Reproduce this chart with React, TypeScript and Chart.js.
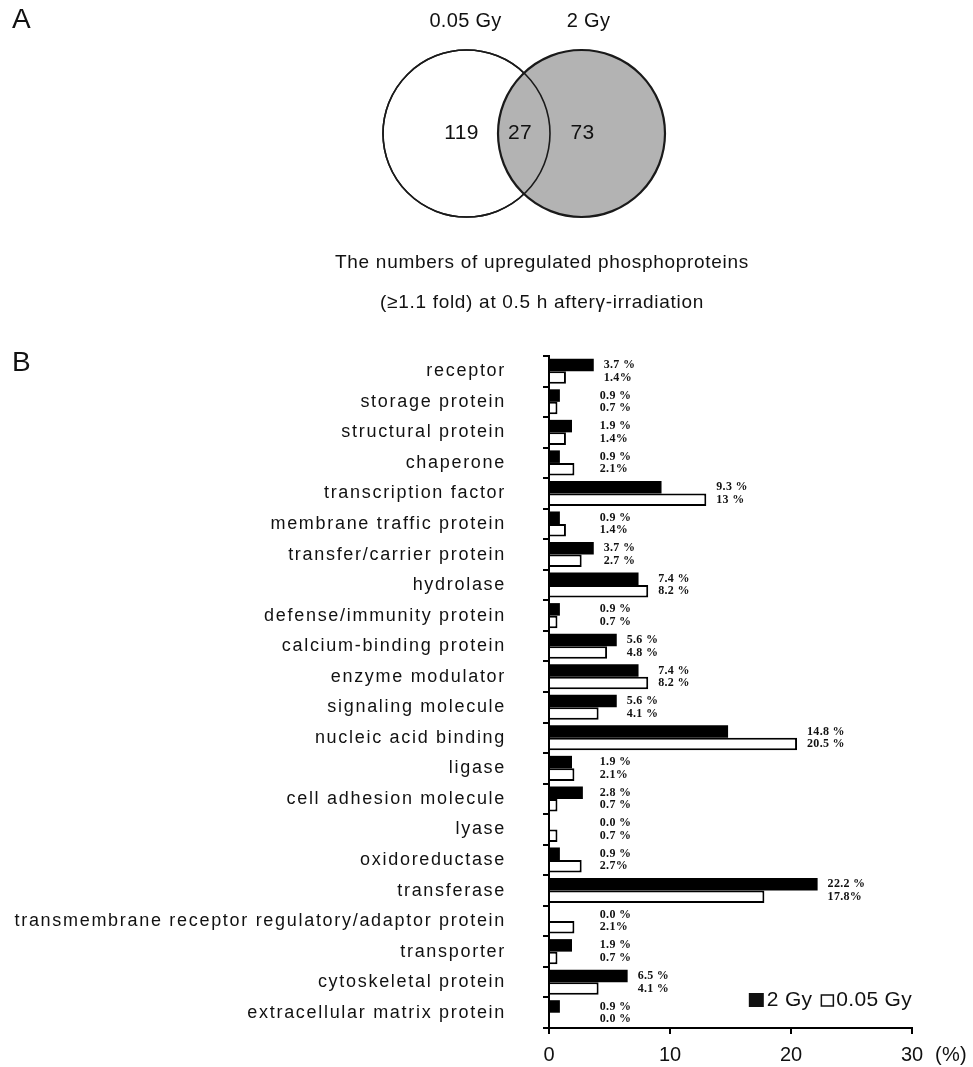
import React, { useEffect, useRef } from 'react';
import { Chart, registerables } from 'chart.js';

Chart.register(...registerables);

const SANS = '"Liberation Sans", Arial, sans-serif';
const SERIF = '"Liberation Serif", "Times New Roman", serif';

// ---------- Data: panel A (Venn) ----------
const vennSetNames = ['0.05 Gy', '2 Gy'];
const vennCounts = [119, 27, 73]; // 0.05 Gy only, both, 2 Gy only
const captionLines = [
  'The numbers of upregulated phosphoproteins',
  '(\u22651.1 fold) at 0.5 h after\u03b3-irradiation',
];

// ---------- Data: panel B (bars) ----------
const categories = [
  'receptor',
  'storage protein',
  'structural protein',
  'chaperone',
  'transcription factor',
  'membrane traffic protein',
  'transfer/carrier protein',
  'hydrolase',
  'defense/immunity protein',
  'calcium-binding protein',
  'enzyme modulator',
  'signaling molecule',
  'nucleic acid binding',
  'ligase',
  'cell adhesion molecule',
  'lyase',
  'oxidoreductase',
  'transferase',
  'transmembrane receptor regulatory/adaptor protein',
  'transporter',
  'cytoskeletal protein',
  'extracellular matrix protein',
];
const values2Gy = [3.7, 0.9, 1.9, 0.9, 9.3, 0.9, 3.7, 7.4, 0.9, 5.6, 7.4, 5.6, 14.8, 1.9, 2.8, 0.0, 0.9, 22.2, 0.0, 1.9, 6.5, 0.9];
const values005Gy = [1.4, 0.7, 1.4, 2.1, 13, 1.4, 2.7, 8.2, 0.7, 4.8, 8.2, 4.1, 20.5, 2.1, 0.7, 0.7, 2.7, 17.8, 2.1, 0.7, 4.1, 0.0];
const labels2Gy = ['3.7 %', '0.9 %', '1.9 %', '0.9 %', '9.3 %', '0.9 %', '3.7 %', '7.4 %', '0.9 %', '5.6 %', '7.4 %', '5.6 %', '14.8 %', '1.9 %', '2.8 %', '0.0 %', '0.9 %', '22.2 %', '0.0 %', '1.9 %', '6.5 %', '0.9 %'];
const labels005Gy = ['1.4%', '0.7 %', '1.4%', '2.1%', '13 %', '1.4%', '2.7 %', '8.2 %', '0.7 %', '4.8 %', '8.2 %', '4.1 %', '20.5 %', '2.1%', '0.7 %', '0.7 %', '2.7%', '17.8%', '2.1%', '0.7 %', '4.1 %', '0.0 %'];
const xTickValues = [0, 10, 20, 30];
const xUnit = '(%)';
const seriesNames = ['2 Gy', '0.05 Gy'];

// ---------- Panel A ----------
const VENN_L = { x: 466.5, y: 133.5, r: 83.5 };
const VENN_R = { x: 581.5, y: 133.5, r: 83.5 };

function VennChart() {
  const ref = useRef<HTMLCanvasElement>(null);
  useEffect(() => {
    const textPlugin = {
      id: 'vennText',
      afterDatasetsDraw(chart: any) {
        const ctx = chart.ctx;
        const xs = chart.scales.x;
        const ys = chart.scales.y;
        ctx.save();
        ctx.fillStyle = '#111';
        ctx.textAlign = 'center';
        ctx.textBaseline = 'middle';
        ctx.font = `20px ${SANS}`;
        ctx.letterSpacing = '0.3px';
        ctx.fillText(vennSetNames[0], xs.getPixelForValue(VENN_L.x - 1), ys.getPixelForValue(21));
        ctx.fillText(vennSetNames[1], xs.getPixelForValue(VENN_R.x + 7), ys.getPixelForValue(21));
        ctx.font = `21px ${SANS}`;
        const cy = ys.getPixelForValue(VENN_L.y);
        const midOverlap = (VENN_R.x - VENN_R.r + VENN_L.x + VENN_L.r) / 2;
        ctx.fillText(String(vennCounts[0]), xs.getPixelForValue(VENN_L.x - 5), cy);
        ctx.fillText(String(vennCounts[1]), xs.getPixelForValue(midOverlap - 4), cy);
        ctx.fillText(String(vennCounts[2]), xs.getPixelForValue(VENN_R.x + 1), cy);
        ctx.restore();
      },
    };
    const chart = new Chart(ref.current!, {
      type: 'bubble',
      data: {
        datasets: [
          { label: 'outline', data: [{ ...VENN_L }], backgroundColor: 'rgba(0,0,0,0)', borderColor: '#1a1a1a', borderWidth: 1.6, order: 0 } as any,
          { label: vennSetNames[1], data: [{ ...VENN_R }], backgroundColor: '#b3b3b3', borderColor: '#1a1a1a', borderWidth: 2.2, order: 1 } as any,
          { label: vennSetNames[0], data: [{ ...VENN_L }], backgroundColor: '#ffffff', borderColor: '#1a1a1a', borderWidth: 1.6, order: 2 } as any,
        ],
      },
      options: {
        responsive: false,
        animation: false,
        events: [],
        layout: { padding: 0, autoPadding: false },
        scales: {
          x: { type: 'linear', min: 0, max: 973, display: false },
          y: { type: 'linear', min: 0, max: 330, reverse: true, display: false },
        },
        plugins: { legend: { display: false }, tooltip: { enabled: false } },
      },
      plugins: [textPlugin],
    });
    return () => chart.destroy();
  }, []);
  return <canvas ref={ref} width={973} height={330} style={{ position: 'absolute', left: 0, top: 0 }} />;
}

// ---------- Panel B ----------
function BarChart() {
  const ref = useRef<HTMLCanvasElement>(null);
  useEffect(() => {
    const spacingPlugin = {
      id: 'spacing',
      beforeDraw(chart: any) {
        chart.ctx.letterSpacing = '1.7px';
      },
      beforeDatasetsDraw(chart: any) {
        chart.ctx.letterSpacing = '0px';
      },
    };
    const labelPlugin = {
      id: 'valueLabels',
      afterDatasetsDraw(chart: any) {
        const ctx = chart.ctx;
        const xs = chart.scales.x;
        const area = chart.chartArea;
        const m0 = chart.getDatasetMeta(0);
        const m1 = chart.getDatasetMeta(1);
        ctx.save();
        ctx.letterSpacing = '0.3px';
        ctx.font = `bold 12px ${SERIF}`;
        ctx.fillStyle = '#111';
        ctx.textAlign = 'left';
        ctx.textBaseline = 'middle';
        categories.forEach((_, i) => {
          const mx = Math.max(values2Gy[i], values005Gy[i]);
          const x = Math.max(xs.getPixelForValue(mx) + 10, xs.getPixelForValue(4.2));
          ctx.fillText(labels2Gy[i], x, m0.data[i].y);
          ctx.fillText(labels005Gy[i], x, m1.data[i].y);
        });
        // legend inside the plot area, bottom right
        ctx.letterSpacing = '0.3px';
        ctx.font = `21px ${SANS}`;
        const fy = area.bottom - 28;
        let x = area.right;
        const w2 = ctx.measureText(seriesNames[1]).width;
        x -= w2;
        ctx.fillText(seriesNames[1], x, fy);
        x -= 15;
        ctx.fillStyle = '#fff';
        ctx.fillRect(x, fy - 5, 12, 11);
        ctx.strokeStyle = '#111';
        ctx.lineWidth = 1.5;
        ctx.strokeRect(x, fy - 5, 12, 11);
        ctx.fillStyle = '#111';
        x -= 9;
        const w1 = ctx.measureText(seriesNames[0]).width;
        x -= w1;
        ctx.fillText(seriesNames[0], x, fy);
        x -= 18;
        ctx.fillRect(x, fy - 7, 15, 14);
        // unit label
        ctx.font = `20px ${SANS}`;
        ctx.textAlign = 'center';
        ctx.fillText(xUnit, area.right + 39, area.bottom + 27);
        ctx.restore();
      },
    };
    const chart = new Chart(ref.current!, {
      type: 'bar',
      data: {
        labels: categories,
        datasets: [
          { label: seriesNames[0], data: values2Gy, backgroundColor: '#000', borderColor: '#000', borderWidth: 0, categoryPercentage: 0.82, barPercentage: 1 },
          { label: seriesNames[1], data: values005Gy, backgroundColor: '#fff', borderColor: '#000', borderWidth: 2, categoryPercentage: 0.82, barPercentage: 1 },
        ],
      },
      options: {
        indexAxis: 'y',
        responsive: false,
        animation: false,
        events: [],
        layout: { padding: { top: 16, right: 61, left: 0, bottom: 0 }, autoPadding: false },
        scales: {
          x: {
            type: 'linear',
            min: 0,
            max: 30,
            afterBuildTicks: (s: any) => { s.ticks = xTickValues.map((v) => ({ value: v })); },
            ticks: { font: { family: SANS, size: 20 }, color: '#111', padding: 9, z: 1 },
            grid: { drawOnChartArea: false, drawTicks: true, tickLength: 6, color: '#000', lineWidth: 2 },
            border: { display: true, color: '#000', width: 2, z: 1 },
            afterFit: (s: any) => { s.height = 39; s.paddingLeft = 0; s.paddingRight = 0; },
          },
          y: {
            type: 'category',
            ticks: { font: { family: SANS, size: 18 }, color: '#111', padding: 37, autoSkip: false },
            grid: { offset: true, drawOnChartArea: false, drawTicks: true, tickLength: 6, color: '#000', lineWidth: 2 },
            border: { display: true, color: '#000', width: 2, z: 1 },
            afterFit: (s: any) => { s.width = 549; s.paddingTop = 0; s.paddingBottom = 0; },
          },
        },
        plugins: { legend: { display: false }, tooltip: { enabled: false } },
      },
      plugins: [spacingPlugin, labelPlugin],
    });
    return () => chart.destroy();
  }, []);
  return <canvas ref={ref} width={973} height={727} style={{ position: 'absolute', left: 0, top: 340 }} />;
}

export default function App() {
  const letter: React.CSSProperties = { position: 'absolute', left: 12, fontFamily: SANS, fontSize: 28, lineHeight: '32px', color: '#111' };
  const cap: React.CSSProperties = { position: 'absolute', left: 242, width: 600, textAlign: 'center', fontFamily: SANS, fontSize: 19, lineHeight: '22px', color: '#111', letterSpacing: '0.7px' };
  return (
    <div style={{ position: 'absolute', left: 0, top: 0, width: 973, height: 1067, background: '#fff', overflow: 'hidden' }}>
      <VennChart />
      <div style={{ ...letter, top: 3 }}>A</div>
      <div style={{ ...cap, top: 251 }}>{captionLines[0]}</div>
      <div style={{ ...cap, top: 291 }}>{captionLines[1]}</div>
      <div style={{ ...letter, top: 346 }}>B</div>
      <BarChart />
    </div>
  );
}
